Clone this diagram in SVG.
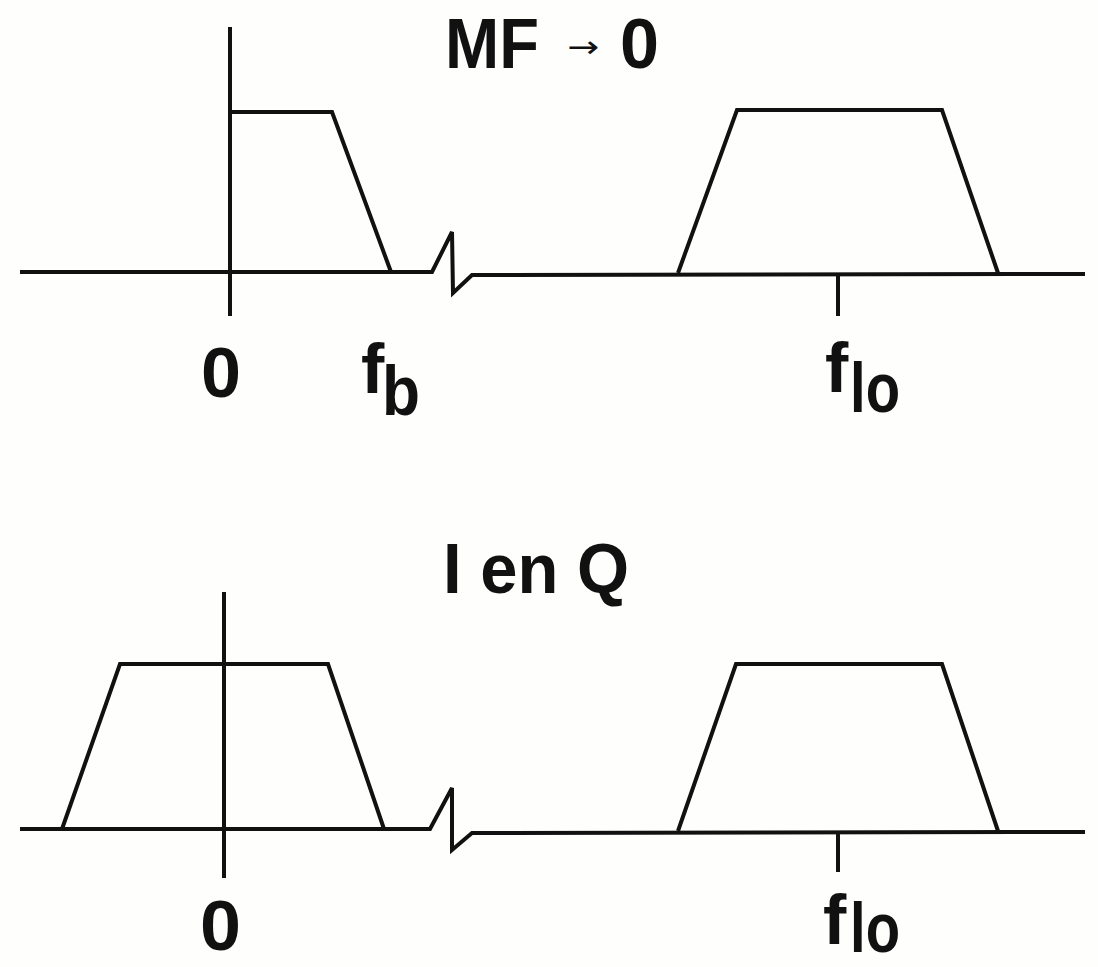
<svg xmlns="http://www.w3.org/2000/svg" width="1098" height="967" viewBox="0 0 1098 967">
<style>
.ln{fill:none;stroke:#111;stroke-width:4;stroke-linejoin:miter;stroke-linecap:butt}
.t{font-family:"Liberation Sans","DejaVu Sans",Arial,sans-serif;font-weight:bold;font-size:70px;fill:#111}
.ar{font-family:"DejaVu Sans","Liberation Sans",sans-serif;font-size:30px;fill:#111}
</style>
<rect width="1098" height="967" fill="#fefefc"/>
<g id="top-panel">
  <path class="ln" d="M230 27 V316"/>
  <path class="ln" d="M20 272 H432 L452 232 L453 293 L472 275 L1085 274"/>
  <path class="ln" d="M230 112 H332 L391 272"/>
  <path class="ln" d="M678 273 L737 110 H942 L998 273"/>
  <path class="ln" d="M838 273 V316"/>
  <text class="t" x="445" y="68" textLength="94" lengthAdjust="spacingAndGlyphs">MF</text>
  <text class="ar" x="567" y="57" textLength="32" lengthAdjust="spacingAndGlyphs">→</text>
  <text class="t" x="620" y="68" textLength="39" lengthAdjust="spacingAndGlyphs">0</text>
  <text class="t" x="201" y="397" textLength="40" lengthAdjust="spacingAndGlyphs">0</text>
  <text class="t" x="361" y="393">f</text>
  <text class="t" x="382" y="415" textLength="38" lengthAdjust="spacingAndGlyphs">b</text>
  <text class="t" x="825" y="392">f</text>
  <text class="t" x="850" y="412" textLength="50" lengthAdjust="spacingAndGlyphs">lo</text>
</g>
<g id="bottom-panel">
  <path class="ln" d="M224 592 V878"/>
  <path class="ln" d="M20 829 H430 L452 788 L452 850 L472 833 L1085 832"/>
  <path class="ln" d="M62 829 L120 664 H328 L384 829"/>
  <path class="ln" d="M678 831 L736 664 H942 L998 831"/>
  <path class="ln" d="M838 831 V872"/>
  <text class="t" x="443" y="593" textLength="186" lengthAdjust="spacingAndGlyphs">I en Q</text>
  <text class="t" x="200" y="950" textLength="41" lengthAdjust="spacingAndGlyphs">0</text>
  <text class="t" x="823" y="944">f</text>
  <text class="t" x="850" y="952" textLength="50" lengthAdjust="spacingAndGlyphs">lo</text>
</g>
</svg>
